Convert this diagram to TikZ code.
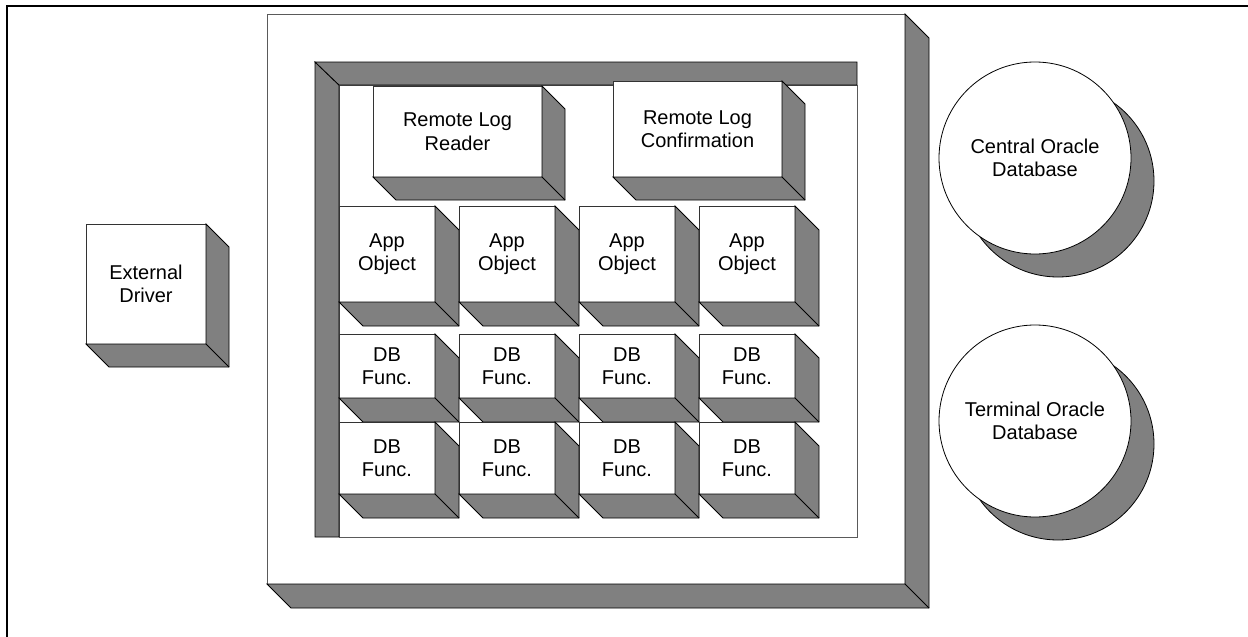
\documentclass[tikz,border=0pt]{standalone}
\usepackage{fontspec}
\setmainfont{Liberation Sans}
\usetikzlibrary{calc}
\definecolor{sidegray}{HTML}{808080}
\definecolor{edgegray}{HTML}{5A5A5A}
\tikzset{
  boxtext/.style = {align=center, inner sep=0pt, outer sep=0pt, text=black, font=\fontsize{20}{23.5}\selectfont},
  % front face of a raised block
  cube/.style = {boxtext, rectangle, draw=black!80, fill=white, line width=0.8pt, minimum width=96pt, anchor=north west},
  % shaded side faces
  sideface/.style = {fill=sidegray, draw=black, line width=0.8pt},
  db/.style = {boxtext, circle, draw=black, fill=white, line width=0.8pt, minimum size=192pt}
}
% right and bottom faces of a block node
\newcommand{\extrude}[2][23]{%
  \filldraw[sideface] (#2.north east) -- ++(#1,#1) -- ($(#2.south east)+(#1,#1)$)
    -- ($(#2.south west)+(#1,#1)$) -- (#2.south west) -- (#2.south east) -- cycle;
  \draw[sideface] (#2.south east) -- ++(#1,#1);
}

\begin{document}
\begin{tikzpicture}[x=1pt, y=-1pt]
  \useasboundingbox (0,0) rectangle (1248,637);
  % Page border:
  \draw[line width=1.5pt] (7,637) -- (7,6) -- (1248,6);

  % Host block:
  \node[cube, draw=edgegray, minimum width=638pt, minimum height=570pt] (host) at (267,14) {};
  \extrude[24]{host}

  % Recessed frame - white well and shaded bars:
  \node[cube, draw=edgegray, minimum width=518pt, minimum height=452pt] (frame) at (339,85) {};
  \filldraw[sideface] (frame.north west) -- ++(-24,-23) coordinate (fa) -- (fa |- frame.south)
    -- (frame.south west) -- cycle;
  \filldraw[sideface] (fa) -- (frame.north east |- fa) -- (frame.north east) -- (frame.north west) -- cycle;

  % Row 0 - remote log blocks:
  \node[cube, minimum width=169pt, minimum height=91pt] (reader) at (373,86) {Remote Log\\Reader};
  \extrude{reader}
  \node[cube, minimum width=169pt, minimum height=96pt] (confirm) at (613,81) {Remote Log\\Confirmation};
  \extrude{confirm}

  % Row 1 - app objects, Row 2/3 - db functions:
  \foreach \i in {1,...,4} {
    \node[cube, minimum height=96pt] (app\i) at ({339+120*(\i-1)},206) {App\\Object};
    \extrude[24]{app\i}
    \node[cube, minimum height=64pt] (dbtop\i) at ({339+120*(\i-1)},334) {DB\\Func.};
    \extrude[24]{dbtop\i}
    \node[cube, minimum height=72pt] (dbbot\i) at ({339+120*(\i-1)},422) {DB\\Func.};
    \extrude[24]{dbbot\i}
  }

  % External driver:
  \node[cube, minimum width=120pt, minimum height=120pt] (driver) at (86,224) {External\\Driver};
  \extrude{driver}

  % Databases - shadow first, then disc:
  \coordinate (cdb) at (1035,158);
  \filldraw[sideface] ($(cdb)+(23,23)$) circle[radius=96];
  \node[db] (central) at (cdb) {Central Oracle\\Database};
  \coordinate (tdb) at (1035,421);
  \filldraw[sideface] ($(tdb)+(23,23)$) circle[radius=96];
  \node[db] (terminal) at (tdb) {Terminal Oracle\\Database};
\end{tikzpicture}
\end{document}
